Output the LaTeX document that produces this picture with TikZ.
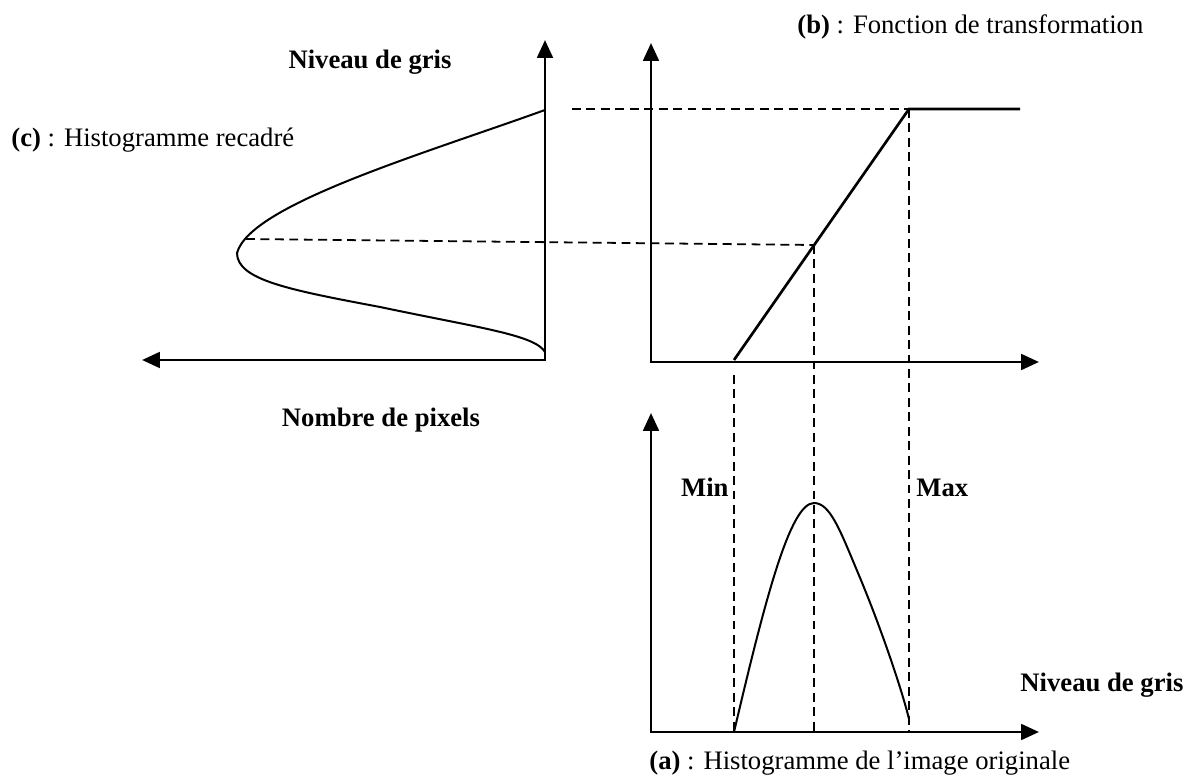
\documentclass[tikz,border=0pt]{standalone}
\usepackage{fontspec}
\setmainfont{Liberation Serif}
\usetikzlibrary{arrows.meta}
\tikzset{
  axis/.style={line width=1.3pt, <->},
  guide/.style={line width=0.8pt, dash pattern=on 4pt off 2.5pt},
  curve/.style={line width=0.9pt},
  lbl/.style={inner sep=0pt, font=\fontsize{12}{14}\selectfont},
}

\begin{document}
\begin{tikzpicture}[x=0.45pt, y=-0.45pt, >={Triangle[length=8pt,width=7pt]}]
  \useasboundingbox (0,0) rectangle (1188,776);

  % (c) histogramme recadre
  \coordinate (cY) at (545,40);
  \coordinate (cO) at (545,360);
  \coordinate (cX) at (142,360);
  \coordinate (cTop) at (545,110);
  \coordinate (cPeak) at (246,239);
  \draw[axis] (cY) -- (cO) -- (cX);
  \draw[curve] (cTop) .. controls (420,155) and (250,205) .. (237,253)
    .. controls (237,280) and (290,290) .. (380,307)
    .. controls (480,328) and (535,335) .. (545,352);
  \node[lbl, font=\fontsize{12}{14}\selectfont\bfseries] (cYlab) at (370,62) {Niveau de gris};
  \node[lbl, anchor=west] (cTitle) at (11,140) {\textbf{(c)} : Histogramme recadré};
  \node[lbl, font=\fontsize{12}{14}\selectfont\bfseries] (cXlab) at (381,420) {Nombre de pixels};

  % (b) fonction de transformation
  \coordinate (bY) at (651,43);
  \coordinate (bO) at (651,362);
  \coordinate (bX) at (1039,362);
  \coordinate (kMin) at (734,360);
  \coordinate (kMid) at (814,245);
  \coordinate (kMax) at (909,109);
  \coordinate (kEnd) at (1020,109);
  \draw[axis] (bY) -- (bO) -- (bX);
  \draw[line width=1.2pt] (kMin) -- (kMax) -- (kEnd);
  \node[lbl, anchor=west] (bTitle) at (797,27) {\textbf{(b)} : Fonction de transformation};

  % (a) histogramme original
  \coordinate (aY) at (651,413);
  \coordinate (aO) at (651,732);
  \coordinate (aX) at (1039,732);
  \coordinate (aMin) at (734,732);
  \coordinate (aMid) at (814,732);
  \coordinate (aMax) at (909,732);
  \coordinate (aPeak) at (814,503);
  \coordinate (aEnd) at (909,719);
  \draw[axis] (aY) -- (aO) -- (aX);
  \draw[curve] (aMin) .. controls (765,600) and (790,503) .. (aPeak)
    .. controls (830,503) and (840,530) .. (858,573)
    .. controls (880,625) and (902,690) .. (aEnd);
  \node[lbl, font=\fontsize{12}{14}\selectfont\bfseries, anchor=east] (minlab) at (729,487) {Min};
  \node[lbl, font=\fontsize{12}{14}\selectfont\bfseries, anchor=west] (maxlab) at (916,488) {Max};
  \node[lbl, font=\fontsize{12}{14}\selectfont\bfseries, anchor=west] (aXlab) at (1020,685) {Niveau de gris};
  \node[lbl, anchor=west] (aTitle) at (649,763) {\textbf{(a)} : Histogramme de l’image originale};

  % projections
  \coordinate (gTop) at (572,109);
  \coordinate (vMin) at (734,375);
  \draw[guide] (gTop) -- (kMax);
  \draw[guide] (cPeak) -- (kMid);
  \draw[guide] (vMin) -- (aMin);
  \draw[guide] (kMid) -- (aMid);
  \draw[guide] (kMax) -- (aMax);
\end{tikzpicture}
\end{document}
